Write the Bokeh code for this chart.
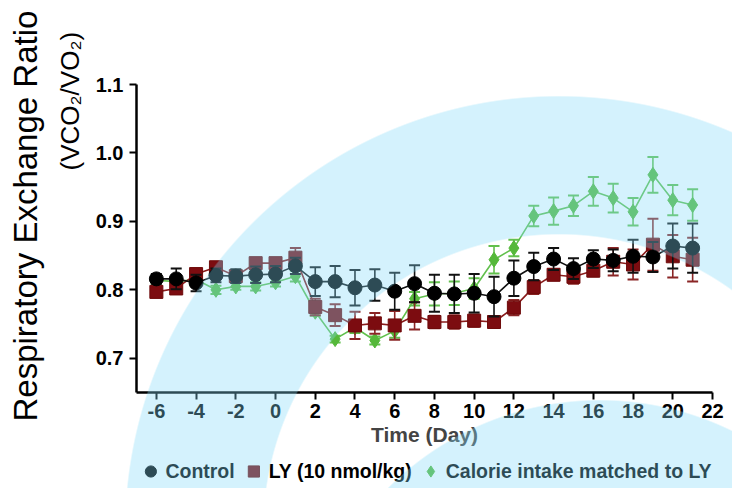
import math
from bokeh.plotting import figure
from bokeh.layouts import column
from bokeh.models import (Range1d, FixedTicker, Legend, LegendItem, Title,
                          InlineStyleSheet, ColumnDataSource)
from bokeh.embed import file_html
from bokeh.resources import INLINE

# ---------------- data ----------------
days = [-6, -5, -4, -3, -2, -1, 0, 1, 2, 3, 4, 5, 6, 7, 8, 9, 10,
        11, 12, 13, 14, 15, 16, 17, 18, 19, 20, 21]

control = [0.816, 0.816, 0.810, 0.821, 0.820, 0.822, 0.823, 0.835,
           0.812, 0.812, 0.803, 0.807, 0.798, 0.809, 0.795, 0.794, 0.795, 0.790,
           0.817, 0.834, 0.845, 0.831, 0.845, 0.843, 0.849, 0.848, 0.864, 0.861]
control_err = [0.007, 0.015, 0.012, 0.010, 0.010, 0.012, 0.012, 0.012,
               0.021, 0.023, 0.026, 0.023, 0.027, 0.027, 0.027, 0.028, 0.028, 0.029,
               0.026, 0.020, 0.016, 0.015, 0.013, 0.016, 0.024, 0.022, 0.033, 0.036]

ly = [0.797, 0.802, 0.823, 0.833, 0.820, 0.839, 0.839, 0.847,
      0.775, 0.763, 0.748, 0.751, 0.748, 0.762, 0.753, 0.753, 0.755, 0.753,
      0.774, 0.804, 0.822, 0.819, 0.828, 0.841, 0.837, 0.866, 0.849, 0.844]
ly_err = [0.008, 0.008, 0.008, 0.007, 0.008, 0.007, 0.007, 0.014,
          0.012, 0.016, 0.020, 0.015, 0.021, 0.020, 0.009, 0.010, 0.009, 0.008,
          0.011, 0.010, 0.008, 0.010, 0.008, 0.020, 0.022, 0.038, 0.031, 0.032]

calorie = [0.814, 0.812, 0.815, 0.800, 0.805, 0.805, 0.811, 0.820,
           0.768, 0.728, 0.745, 0.726, 0.740, 0.787, 0.794, 0.795, 0.802, 0.844,
           0.861, 0.908, 0.915, 0.923, 0.944, 0.934, 0.914, 0.968, 0.931, 0.924]
calorie_err = [0.005, 0.005, 0.005, 0.006, 0.005, 0.006, 0.006, 0.008,
               0.006, 0.005, 0.008, 0.006, 0.010, 0.010, 0.017, 0.017, 0.015, 0.020,
               0.012, 0.015, 0.020, 0.015, 0.021, 0.021, 0.020, 0.026, 0.022, 0.023]

series_names = ["Control", "LY (10 nmol/kg)", "Calorie intake matched to LY"]

x_ticks = [-6, -4, -2, 0, 2, 4, 6, 8, 10, 12, 14, 16, 18, 20, 22]
x_tick_labels = ["-6", "-4", "-2", "0", "2", "4", "6", "8", "10", "12",
                 "14", "16", "18", "20", "22"]
y_ticks = [0.7, 0.8, 0.9, 1.0, 1.1]
y_tick_labels = ["0.7", "0.8", "0.9", "1.0", "1.1"]

x_title = "Time (Day)"
y_title_1 = "Respiratory Exchange Ratio"
y_title_2 = "(VCO\u2082/VO\u2082)"

# ---------------- layout constants ----------------
W, H = 732, 488
LEG_H = 34                      # height of the legend strip at the bottom
PH = H - LEG_H                  # height of the main chart
FL, FR, FT = 136, 20, 84
FB = PH - 392                   # frame bottom at y = 392
FONT = "Liberation Sans"

p = figure(width=W, height=PH, output_backend="svg", toolbar_location=None,
           x_range=Range1d(-7, 22), y_range=Range1d(0.65, 1.1),
           min_border_left=FL, min_border_right=FR,
           min_border_top=FT, min_border_bottom=FB)
p.outline_line_color = None
p.grid.visible = False
p.background_fill_color = "white"
p.border_fill_color = "white"

for ax in (p.xaxis[0], p.yaxis[0]):
    ax.axis_line_width = 2.5
    ax.axis_line_color = "black"
    ax.major_tick_line_width = 2
    ax.major_tick_line_color = "black"
    ax.major_tick_out = 7
    ax.major_tick_in = 0
    ax.minor_tick_out = 0
    ax.minor_tick_in = 0
    ax.major_label_text_font = FONT
    ax.major_label_text_font_style = "bold"
    ax.major_label_text_font_size = "20px"
    ax.major_label_text_color = "black"
    ax.major_label_standoff = 4

p.xaxis[0].ticker = FixedTicker(ticks=x_ticks)
p.xaxis[0].major_label_overrides = {t: s for t, s in zip(x_ticks, x_tick_labels)}
p.xaxis[0].axis_label = x_title
p.xaxis[0].axis_label_text_font = FONT
p.xaxis[0].axis_label_text_font_style = "bold"
p.xaxis[0].axis_label_text_font_size = "21px"
p.xaxis[0].axis_label_standoff = 2

p.yaxis[0].ticker = FixedTicker(ticks=y_ticks)
p.yaxis[0].major_label_overrides = {t: s for t, s in zip(y_ticks, y_tick_labels)}
p.yaxis[0].major_label_standoff = 6

# y-axis titles: two vertical titles in the left panel (align "left" =
# starting from the bottom of the frame, shifted by offset)
t2 = Title(text=y_title_2, align="left", offset=392 - 170, standoff=16,
           text_font=FONT, text_font_style="normal", text_font_size="26px",
           text_color="black")
t1 = Title(text=y_title_1, align="left", offset=392 - 421, standoff=2,
           text_font=FONT, text_font_style="normal", text_font_size="33px",
           text_color="black")
p.add_layout(t2, "left")
p.add_layout(t1, "left")

# ---------------- series ----------------
styles = [
    # values, errors, line colour, err colour, marker, size, fill, outline
    (calorie, calorie_err, "#62c04d", "#62c04d", "diamond", 15, "#55b83a", "#55b83a"),
    (ly, ly_err, "#8a1c1c", "#8a2525", "square", 13, "#7c0c10", "#6e0a0a"),
    (control, control_err, "#111111", "#111111", "circle", 14, "#000000", "#000000"),
]
marker_styles = []
for vals, errs, lc, ec, mk, sz, fc, oc in styles:
    lo = [v - e for v, e in zip(vals, errs)]
    hi = [v + e for v, e in zip(vals, errs)]
    src = ColumnDataSource(dict(x=days, y=vals, lo=lo, hi=hi))
    p.line("x", "y", source=src, line_color=lc, line_width=1.6)
    p.segment(x0="x", y0="lo", x1="x", y1="hi", source=src,
              line_color=ec, line_width=1.6)
    p.scatter("x", "lo", source=src, marker="dash", size=11,
              line_color=ec, line_width=2)
    p.scatter("x", "hi", source=src, marker="dash", size=11,
              line_color=ec, line_width=2)
    p.scatter("x", "y", source=src, marker=mk, size=sz,
              fill_color=fc, line_color=oc, line_width=1)
    marker_styles.append((mk, sz, fc, oc))

# ---------------- legend strip ----------------
leg_fig = figure(width=W, height=LEG_H, output_backend="svg",
                 toolbar_location=None, x_range=Range1d(0, 1),
                 y_range=Range1d(0, 1), min_border=0,
                 min_border_left=0, min_border_right=0,
                 min_border_top=0, min_border_bottom=0)
leg_fig.axis.visible = False
leg_fig.grid.visible = False
leg_fig.outline_line_color = None
leg_fig.background_fill_color = "white"
leg_fig.border_fill_color = "white"

# legend proxies: one undrawn (NaN) point each, styled like the series markers
proxies = []
for mk, sz, fc, oc in marker_styles:
    proxies.append(leg_fig.scatter(x=[float("nan")], y=[float("nan")],
                                   marker=mk, size=sz, fill_color=fc,
                                   line_color=oc, line_width=1))
r_cal, r_ly, r_ctrl = proxies
legend = Legend(items=[LegendItem(label=series_names[0], renderers=[r_ctrl]),
                       LegendItem(label=series_names[1], renderers=[r_ly]),
                       LegendItem(label=series_names[2], renderers=[r_cal])],
                orientation="horizontal", location="center",
                border_line_color=None, background_fill_alpha=0,
                label_text_font=FONT, label_text_font_style="bold",
                label_text_font_size="19.5px", label_text_color="black",
                glyph_width=28, glyph_height=32, label_standoff=1,
                spacing=5, padding=1, margin=0)
leg_fig.add_layout(legend, "center")

layout = column(p, leg_fig, spacing=0)

# decorative translucent light-blue arcs overlaid on the whole picture
C = "rgb(132,220,250)"
C0 = "rgba(132,220,250,0)"
css = f"""
:host::after {{
  content: "";
  position: absolute;
  left: 0; top: 0; width: {W}px; height: {H}px;
  pointer-events: none;
  opacity: 0.34;
  z-index: 50;
  background:
    radial-gradient(circle at 600px 700px, {C} 299px, {C0} 300.5px),
    radial-gradient(circle at 559px 530px, {C0} 295px, {C} 296.5px, {C} 433px, {C0} 434.5px);
}}
"""
layout.stylesheets.append(InlineStyleSheet(css=css))

open("out.html", "w").write(file_html(layout, INLINE))
